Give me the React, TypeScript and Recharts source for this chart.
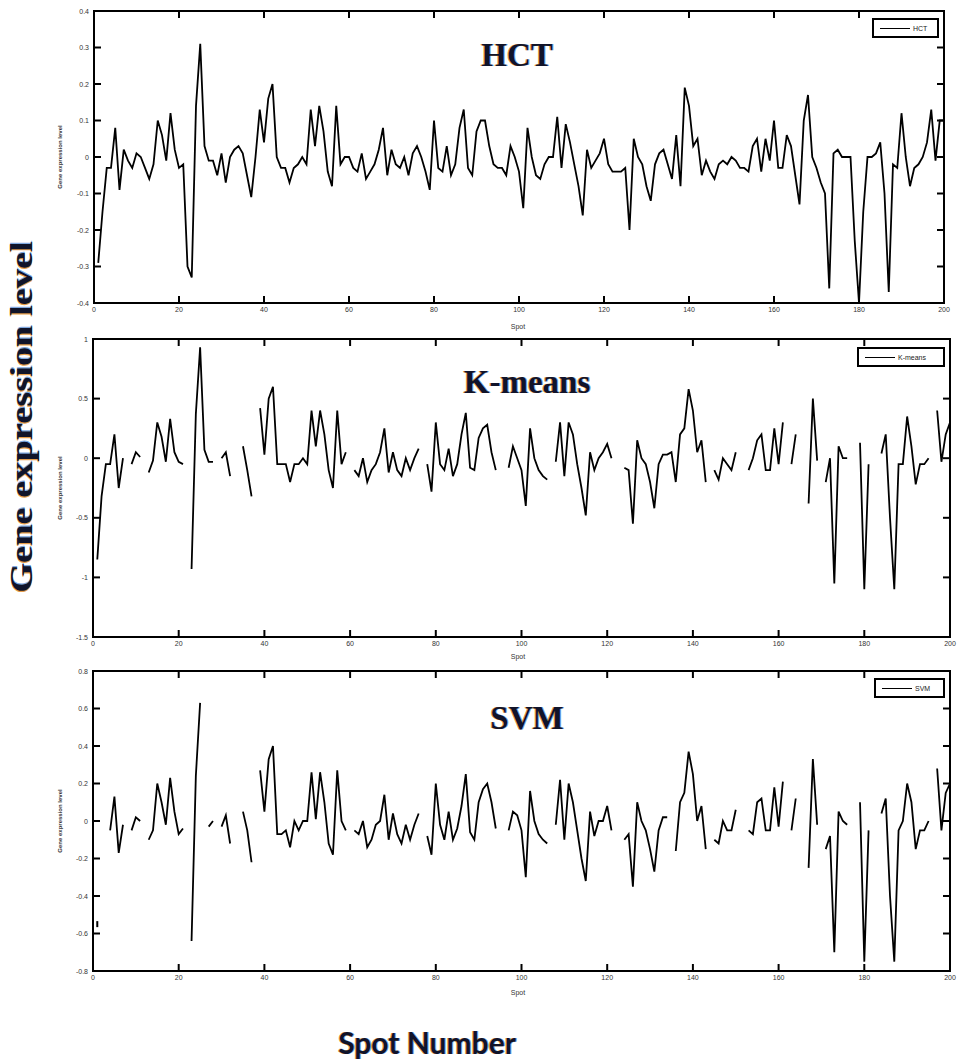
import { LineChart, Line, XAxis, YAxis, Legend, ReferenceArea } from "recharts";

// spot index 1..200 on the x axis
const spots = Array.from({ length: 200 }, (_, i) => i + 1);
const xTicks = [0, 20, 40, 60, 80, 100, 120, 140, 160, 180, 200];

const hctTicks = [-0.4, -0.3, -0.2, -0.1, 0, 0.1, 0.2, 0.3, 0.4];
const kmeansTicks = [-1.5, -1, -0.5, 0, 0.5, 1];
const svmTicks = [-0.8, -0.6, -0.4, -0.2, 0, 0.2, 0.4, 0.6, 0.8];

// spots 1..200
const hct = [
  -0.29, -0.15, -0.03, -0.03, 0.08, -0.09, 0.02, -0.01, -0.03, 0.01,
  0.0, -0.03, -0.06, -0.02, 0.1, 0.06, -0.01, 0.12, 0.02, -0.03,
  -0.02, -0.3, -0.33, 0.14, 0.31, 0.03, -0.01, -0.01, -0.05, 0.01,
  -0.07, 0.0, 0.02, 0.03, 0.01, -0.05, -0.11, 0.0, 0.13, 0.04,
  0.16, 0.2, 0.0, -0.03, -0.03, -0.07, -0.03, -0.02, 0.0, -0.02,
  0.13, 0.03, 0.14, 0.07, -0.04, -0.08, 0.14, -0.02, 0.0, 0.0,
  -0.03, -0.04, 0.01, -0.06, -0.04, -0.02, 0.02, 0.08, -0.05, 0.02,
  -0.02, -0.03, 0.0, -0.05, 0.01, 0.03, 0.0, -0.04, -0.09, 0.1,
  -0.03, -0.04, 0.03, -0.05, -0.02, 0.08, 0.13, -0.03, -0.05, 0.07,
  0.1, 0.1, 0.03, -0.02, -0.03, -0.03, -0.05, 0.03, 0.0, -0.04,
  -0.14, 0.08, 0.0, -0.05, -0.06, -0.02, 0.0, 0.0, 0.11, -0.03,
  0.09, 0.04, -0.02, -0.08, -0.16, 0.02, -0.03, -0.01, 0.01, 0.05,
  -0.02, -0.04, -0.04, -0.04, -0.03, -0.2, 0.05, 0.0, -0.02, -0.08,
  -0.12, -0.02, 0.01, 0.02, -0.02, -0.06, 0.06, -0.08, 0.19, 0.14,
  0.03, 0.05, -0.05, -0.01, -0.04, -0.06, -0.02, -0.01, -0.02, 0.0,
  -0.01, -0.03, -0.03, -0.04, 0.03, 0.05, -0.04, 0.05, -0.01, 0.1,
  -0.03, -0.03, 0.06, 0.03, -0.05, -0.13, 0.1, 0.17, 0.0, -0.03,
  -0.07, -0.1, -0.36, 0.01, 0.02, 0.0, 0.0, 0.0, -0.23, -0.4,
  -0.15, 0.0, 0.0, 0.01, 0.04, -0.1, -0.37, -0.02, -0.03, 0.12,
  0.0, -0.08, -0.03, -0.02, 0.0, 0.04, 0.13, -0.01, 0.1, 0.1,
];

const kmeans = [
  -0.85, -0.32, -0.05, -0.05, 0.2, -0.25, 0.0, null, -0.05, 0.05,
  0.01, null, -0.12, -0.02, 0.3, 0.18, -0.03, 0.33, 0.05, -0.03,
  -0.05, null, -0.93, 0.37, 0.93, 0.07, -0.03, -0.03, null, 0.0,
  0.05, -0.15, null, null, 0.1, -0.1, -0.32, null, 0.42, 0.03,
  0.5, 0.6, -0.05, -0.05, -0.05, -0.2, -0.05, -0.05, 0.0, -0.05,
  0.4, 0.1, 0.4, 0.2, -0.1, -0.25, 0.4, -0.05, 0.05, null,
  -0.1, -0.15, 0.0, -0.2, -0.1, -0.05, 0.05, 0.25, -0.12, 0.05,
  -0.1, -0.15, 0.0, -0.1, 0.0, 0.08, null, -0.05, -0.28, 0.3,
  -0.05, -0.1, 0.08, -0.15, -0.05, 0.2, 0.38, -0.08, -0.1, 0.17,
  0.25, 0.28, 0.05, -0.1, null, null, -0.08, 0.1, 0.0, -0.1,
  -0.4, 0.25, 0.0, -0.1, -0.15, -0.18, null, -0.03, 0.3, -0.15,
  0.3, 0.2, -0.05, -0.25, -0.48, 0.05, -0.1, 0.0, 0.05, 0.12,
  0.0, null, null, -0.08, -0.1, -0.55, 0.15, 0.0, -0.05, -0.2,
  -0.42, -0.05, 0.03, 0.03, 0.05, -0.2, 0.2, 0.25, 0.58, 0.4,
  0.05, 0.15, -0.2, null, -0.1, -0.18, 0.0, -0.05, -0.1, 0.05,
  null, null, -0.1, 0.0, 0.15, 0.2, -0.1, -0.1, 0.25, -0.05,
  0.3, null, -0.05, 0.2, null, null, -0.38, 0.5, -0.02, null,
  -0.2, 0.0, -1.05, 0.1, 0.0, 0.0, null, null, 0.13, -1.1,
  -0.05, null, null, 0.04, 0.2, -0.5, -1.1, -0.05, -0.05, 0.35,
  0.1, -0.22, -0.05, -0.05, 0.0, null, 0.4, -0.03, 0.2, 0.3,
];

const svm = [
  -0.55, null, null, -0.05, 0.13, -0.17, -0.02, null, -0.05, 0.02,
  0.0, null, -0.1, -0.05, 0.2, 0.1, -0.02, 0.23, 0.05, -0.07,
  -0.04, null, -0.64, 0.24, 0.63, null, -0.03, 0.0, null, -0.03,
  0.03, -0.12, null, null, 0.05, -0.05, -0.22, null, 0.27, 0.05,
  0.33, 0.4, -0.07, -0.07, -0.05, -0.14, 0.0, -0.05, 0.0, 0.0,
  0.26, 0.01, 0.26, 0.1, -0.12, -0.18, 0.27, 0.0, -0.05, null,
  -0.05, -0.07, 0.0, -0.14, -0.1, -0.02, 0.0, 0.14, -0.1, 0.04,
  -0.07, -0.12, -0.02, -0.1, -0.02, 0.04, null, -0.08, -0.18, 0.2,
  -0.02, -0.1, 0.05, -0.1, -0.04, 0.08, 0.25, -0.06, -0.1, 0.1,
  0.17, 0.2, 0.1, -0.04, null, null, -0.05, 0.05, 0.03, -0.05,
  -0.3, 0.16, 0.0, -0.07, -0.1, -0.12, null, -0.02, 0.22, -0.1,
  0.2, 0.1, -0.05, -0.2, -0.32, 0.05, -0.08, 0.0, 0.0, 0.08,
  -0.05, null, null, -0.1, -0.07, -0.35, 0.1, 0.0, -0.05, -0.15,
  -0.27, -0.05, 0.02, 0.02, null, -0.16, 0.1, 0.15, 0.37, 0.25,
  0.0, 0.08, -0.15, null, -0.1, -0.12, 0.0, -0.05, -0.05, 0.06,
  null, null, -0.05, -0.07, 0.1, 0.12, -0.05, -0.05, 0.18, -0.03,
  0.21, null, -0.05, 0.12, null, null, -0.25, 0.33, -0.02, null,
  -0.15, -0.08, -0.7, 0.05, 0.0, -0.02, null, null, 0.1, -0.75,
  -0.05, null, null, 0.04, 0.12, -0.4, -0.75, -0.05, 0.0, 0.2,
  0.1, -0.15, -0.05, -0.05, 0.0, null, 0.28, -0.05, 0.15, 0.2,
];

const tickText = { fontSize: 7, fill: "#333", fontFamily: "'Liberation Sans', Arial, sans-serif" };
const glow = "-1px 0 0 rgba(225,140,40,0.85), 1px 0 0 rgba(70,130,210,0.7)";
const ink = "#10142a";

const fmt = (v: number) => String(Math.round(v * 10) / 10);

function BottomTick({ x, y, payload }: any) {
  return (
    <g>
      <path d={`M${x},${y}v-7`} stroke="#000" strokeWidth={2} fill="none" />
      <text x={x} y={y + 9} textAnchor="middle" {...tickText}>{payload.value}</text>
    </g>
  );
}

function TopTick({ x, y }: any) {
  return <path d={`M${x},${y}v7`} stroke="#000" strokeWidth={2} fill="none" />;
}

function LeftTick({ x, y, payload }: any) {
  return (
    <g>
      <path d={`M${x},${y}h7`} stroke="#000" strokeWidth={2} fill="none" />
      <text x={x - 5} y={y + 2.5} textAnchor="end" {...tickText}>{fmt(payload.value)}</text>
    </g>
  );
}

function RightTick({ x, y }: any) {
  return <path d={`M${x},${y}h-7`} stroke="#000" strokeWidth={2} fill="none" />;
}

// draw a point only where both neighbours are missing
function loneDot(values: (number | null)[]) {
  return (p: any) => {
    const i = p.index;
    const lone = values[i] != null && values[i - 1] == null && values[i + 1] == null;
    if (!lone) return <g key={i} />;
    return <rect key={i} x={p.cx - 1} y={p.cy - 3} width={2} height={6} fill="#000" />;
  };
}

function LegendBox({ label, width }: { label: string; width: number }) {
  return (
    <div
      style={{
        width, height: 20, boxSizing: "border-box", border: "2px solid #000", background: "#fff",
        display: "flex", alignItems: "center", gap: 3, padding: "0 4px 0 6px",
      }}
    >
      <div style={{ width: 30, height: 0, borderTop: "1.5px solid #000" }} />
      <span style={{ fontSize: 7, fontFamily: "'Liberation Sans', Arial, sans-serif", color: "#222" }}>{label}</span>
    </div>
  );
}

type PanelProps = {
  top: number;
  height: number;
  values: (number | null)[];
  name: string;
  domain: [number, number];
  ticks: number[];
  margin: { top: number; right: number; bottom: number; left: number };
  legendTop: number;
  legendLeft: number;
  legendWidth: number;
};

function Panel({ top, height, values, name, domain, ticks, margin, legendTop, legendLeft, legendWidth }: PanelProps) {
  const data = spots.map((s, i) => ({ spot: s, v: values[i] }));
  const axisLine = { stroke: "#000", strokeWidth: 2 };
  return (
    <div style={{ position: "absolute", left: 0, top }}>
      <LineChart width={957} height={height} data={data} margin={margin}>
        <XAxis
          dataKey="spot" type="number" domain={[0, 200]} ticks={xTicks} interval={0} stroke="#000"
          height={20} tickSize={0} tickMargin={0} tick={<BottomTick />} axisLine={axisLine} tickLine={false}
        />
        <XAxis
          xAxisId="top" orientation="top" dataKey="spot" type="number" domain={[0, 200]} ticks={xTicks} interval={0}
          stroke="#000" height={1} tickSize={0} tickMargin={0} tick={<TopTick />} axisLine={axisLine} tickLine={false}
        />
        <YAxis
          domain={domain} ticks={ticks} interval={0} width={40} allowDataOverflow stroke="#000"
          tickSize={0} tickMargin={0} tick={<LeftTick />} axisLine={axisLine} tickLine={false}
        />
        <YAxis
          yAxisId="right" orientation="right" domain={domain} ticks={ticks} interval={0} width={1} allowDataOverflow
          stroke="#000" tickSize={0} tickMargin={0} tick={<RightTick />} axisLine={axisLine} tickLine={false}
        />
        <ReferenceArea
          x1={0} x2={200} y1={domain[0]} y2={domain[1]} fill="none" fillOpacity={0}
          stroke="#000" strokeWidth={2} ifOverflow="visible"
        />
        <Legend
          layout="vertical" align="center" verticalAlign="middle"
          wrapperStyle={{ top: legendTop, left: legendLeft, width: legendWidth }}
          content={() => <LegendBox label={name} width={legendWidth} />}
        />
        <Line
          type="linear" dataKey="v" name={name} stroke="#000" strokeWidth={1.8}
          dot={loneDot(values)} activeDot={false} connectNulls={false} isAnimationActive={false}
        />
      </LineChart>
    </div>
  );
}

const titleStyle: any = {
  position: "absolute", transform: "translate(-50%, -50%)", whiteSpace: "nowrap",
  fontFamily: "'Liberation Serif', 'Times New Roman', serif", fontWeight: 700, fontSize: 33,
  color: ink, textShadow: glow,
};

const smallLabel: any = {
  position: "absolute", whiteSpace: "nowrap", fontSize: 7, color: "#333",
  fontFamily: "'Liberation Sans', Arial, sans-serif",
};

export default function App() {
  return (
    <div style={{ position: "absolute", left: 0, top: 0, width: 957, height: 1063, background: "#fff", overflow: "hidden" }}>
      <Panel
        top={0} height={330} values={hct} name="HCT" domain={[-0.4, 0.4]} ticks={hctTicks}
        margin={{ top: 10, right: 12, bottom: 7, left: 54 }} legendTop={18} legendLeft={872} legendWidth={67}
      />
      <Panel
        top={330} height={330} values={kmeans} name="K-means" domain={[-1.5, 1]} ticks={kmeansTicks}
        margin={{ top: 8, right: 6, bottom: 3, left: 53 }} legendTop={17} legendLeft={857} legendWidth={88}
      />
      <Panel
        top={660} height={340} values={svm} name="SVM" domain={[-0.8, 0.8]} ticks={svmTicks}
        margin={{ top: 10, right: 6, bottom: 9, left: 53 }} legendTop={18} legendLeft={874} legendWidth={71}
      />

      <div style={{ ...titleStyle, left: 517, top: 55 }}>HCT</div>
      <div style={{ ...titleStyle, left: 527, top: 382 }}>K-means</div>
      <div style={{ ...titleStyle, left: 527, top: 718 }}>SVM</div>

      {[326, 656, 992].map((y) => (
        <div key={y} style={{ ...smallLabel, left: 518, top: y, transform: "translate(-50%, -50%)" }}>Spot</div>
      ))}
      {[157, 488, 821].map((y) => (
        <div
          key={y}
          style={{ ...smallLabel, left: 60, top: y, fontWeight: 700, fontSize: 6, transform: "translate(-50%, -50%) rotate(-90deg)" }}
        >
          Gene expression level
        </div>
      ))}

      <div
        style={{
          ...titleStyle, left: 22, top: 417, fontSize: 31,
          transform: "translate(-50%, -50%) rotate(-90deg) scaleX(1.24)",
        }}
      >
        Gene expression level
      </div>
      <div
        style={{
          position: "absolute", left: 427, top: 1042, transform: "translate(-50%, -50%)", whiteSpace: "nowrap",
          fontFamily: "Lato, 'Open Sans', sans-serif", fontWeight: 700, fontSize: 30, color: ink, textShadow: glow,
        }}
      >
        Spot Number
      </div>
    </div>
  );
}
